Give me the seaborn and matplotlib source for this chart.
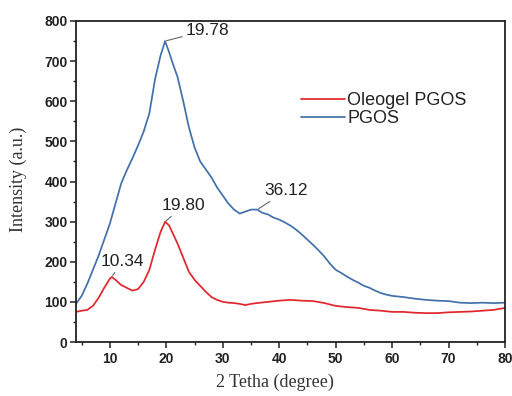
import numpy as np
import pandas as pd
import matplotlib
matplotlib.use("Agg")
import matplotlib.pyplot as plt
from matplotlib.ticker import MultipleLocator
import seaborn as sns

# ---- data ----
pgos_x = [4, 5, 6, 7, 8, 9, 10, 11, 12, 13, 14, 15, 16, 17, 18, 19, 19.78, 20.5, 21, 22, 23, 24, 25, 26,
          27, 28, 29, 30, 31, 32, 33, 34, 35, 36.12, 37, 38, 39, 40, 41, 42, 43, 44, 45, 46, 47, 48, 49,
          50, 51, 52, 53, 54, 55, 56, 57, 58, 59, 60, 62, 64, 66, 68, 70, 72, 74, 76, 78, 80]
pgos_y = [95, 115, 145, 180, 215, 255, 295, 345, 395, 428, 458, 490, 525, 570, 655, 715, 750, 722, 700,
          660, 600, 535, 485, 450, 430, 410, 385, 365, 345, 330, 320, 325, 330, 330, 322, 318, 310, 305,
          298, 290, 280, 268, 255, 242, 228, 213, 195, 180, 172, 163, 155, 148, 140, 135, 128, 122, 118,
          115, 112, 108, 105, 103, 102, 98, 97, 98, 97, 98]

oleo_x = [4, 5, 6, 7, 8, 9, 10, 10.34, 11, 12, 13, 14, 15, 16, 17, 18, 19, 19.80, 20.5, 21, 22, 23, 24,
          25, 26, 27, 28, 29, 30, 31, 32, 33, 34, 35, 36, 38, 40, 42, 44, 46, 48, 50, 52, 54, 56, 58, 60,
          62, 64, 66, 68, 70, 72, 74, 76, 78, 80]
oleo_y = [75, 78, 80, 90, 110, 135, 158, 162, 155, 142, 135, 128, 132, 150, 180, 230, 275, 300, 290, 275,
          245, 210, 175, 155, 140, 125, 112, 105, 100, 98, 97, 95, 92, 95, 97, 100, 103, 105, 103, 102,
          97, 90, 87, 85, 80, 78, 75, 75, 73, 72, 72, 74, 75, 76, 78, 80, 85]

series_names = ["Oleogel PGOS", "PGOS"]
series_colors = ["#e0262c", "#4270aa"]

peak_labels = ["19.78", "19.80", "10.34", "36.12"]
peak_x = [19.78, 19.80, 10.34, 36.12]
peak_y = [750, 300, 162, 330]

df = pd.concat([
    pd.DataFrame({"x": oleo_x, "y": oleo_y, "s": series_names[0]}),
    pd.DataFrame({"x": pgos_x, "y": pgos_y, "s": series_names[1]}),
])

sns.set_style("ticks")
fig = plt.figure(figsize=(5.12, 3.96), dpi=100)
ax = fig.add_axes([76 / 512, 1 - 342 / 396, 429 / 512, 321 / 396])

sns.lineplot(data=df, x="x", y="y", hue="s", hue_order=series_names,
             palette=series_colors, linewidth=1.25, ax=ax, sort=False,
             estimator=None, legend=True)

ax.set_xlim(4, 80)
ax.set_ylim(0, 800)
ax.xaxis.set_major_locator(MultipleLocator(10))
ax.xaxis.set_minor_locator(MultipleLocator(5))
ax.yaxis.set_major_locator(MultipleLocator(100))
ax.yaxis.set_minor_locator(MultipleLocator(50))
ax.set_xticks([10, 20, 30, 40, 50, 60, 70, 80])

for sp in ax.spines.values():
    sp.set_visible(True)
    sp.set_color("#222222")
    sp.set_linewidth(1.3)

ax.tick_params(which="major", direction="out", length=4, width=1.1, color="#222222",
               top=False, right=False)
ax.tick_params(which="minor", direction="out", length=2.5, width=1.0, color="#222222",
               top=False, right=False)
for lab in ax.get_xticklabels() + ax.get_yticklabels():
    lab.set_fontfamily("Liberation Sans")
    lab.set_fontweight("bold")
    lab.set_fontsize(10)
    lab.set_color("#222222")
ax.tick_params(axis="x", pad=3)
ax.tick_params(axis="y", pad=2)

ax.set_xlabel("2 Tetha (degree)", fontfamily="Liberation Serif", fontsize=13, color="#333333")
ax.set_ylabel("Intensity (a.u.)", fontfamily="Liberation Serif", fontsize=13, color="#333333")
ax.xaxis.set_label_coords((275 - 76) / 429, -0.098)
ax.yaxis.set_label_coords((27 - 76) / 429, (342 - 179) / 321)

# annotations with leader lines
text_pos = [(23.4, 777), (19.2, 340), (8.3, 200), (37.4, 377)]
for lab, px, py, (tx, ty) in zip(peak_labels, peak_x, peak_y, text_pos):
    ax.annotate(lab, xy=(px, py), xytext=(tx, ty), textcoords="data",
                fontfamily="Liberation Sans", fontsize=12.5, color="#222222",
                ha="left", va="center",
                arrowprops=dict(arrowstyle="-", color="#666666", lw=0.8,
                                shrinkA=0, shrinkB=1))

leg = ax.legend(loc="upper left", bbox_to_anchor=((294 - 76) / 429, 1 - (85 - 21) / 321),
                frameon=False, handlelength=2.4, handletextpad=0.15, labelspacing=0.05,
                prop={"family": "Liberation Sans", "size": 13}, borderaxespad=0)
for t in leg.get_texts():
    t.set_color("#222222")

fig.savefig("out.png", dpi=100)
